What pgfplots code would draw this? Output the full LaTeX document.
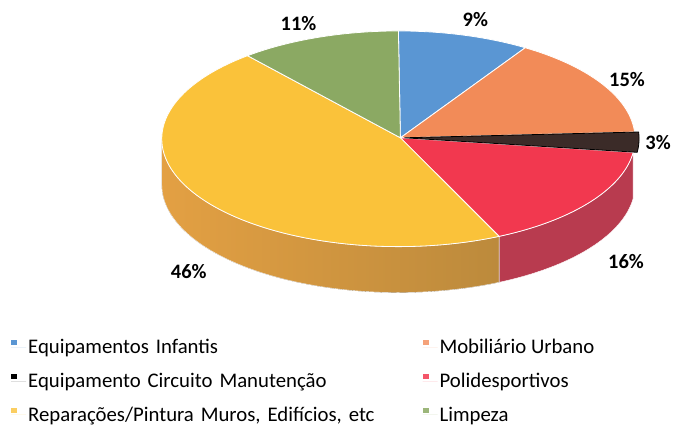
\documentclass[border=0pt]{standalone}
\usepackage{fontspec}
\setmainfont{Carlito}
\usepackage{pgfplots}
\pgfplotsset{compat=1.18}
\usepackage{pgfplotstable}
\usepgfplotslibrary{fillbetween}

\definecolor{cB}{HTML}{5A96D3}
\definecolor{cO}{HTML}{F28B58}
\definecolor{cK}{HTML}{3B2B28}
\definecolor{cR}{HTML}{F2384F}
\definecolor{cY}{HTML}{FAC23A}
\definecolor{cG}{HTML}{8BA963}
\definecolor{cYs}{HTML}{E3A043}
\definecolor{cYd}{HTML}{BC8A3C}
\definecolor{cRs}{HTML}{B83B4F}

\pgfplotstableread{
label value
EI 9
MU 15
EC 3
PD 16
RP 46
LP 11
}\piedata

\pgfplotstablegetelem{0}{value}\of\piedata \let\vA\pgfplotsretval
\pgfplotstablegetelem{1}{value}\of\piedata \let\vB\pgfplotsretval
\pgfplotstablegetelem{2}{value}\of\piedata \let\vC\pgfplotsretval
\pgfplotstablegetelem{3}{value}\of\piedata \let\vD\pgfplotsretval
\pgfplotstablegetelem{4}{value}\of\piedata \let\vE\pgfplotsretval
\pgfplotstablegetelem{5}{value}\of\piedata \let\vF\pgfplotsretval
\pgfmathsetmacro\aA{0}
\pgfmathsetmacro\aB{\aA+3.6*\vA}
\pgfmathsetmacro\aC{\aB+3.6*\vB}
\pgfmathsetmacro\aD{\aC+3.6*\vC}
\pgfmathsetmacro\aE{\aD+3.6*\vD}
\pgfmathsetmacro\aF{\aE+3.6*\vE}
\pgfmathsetmacro\aG{\aF+3.6*\vF}

\begin{document}
\begin{tikzpicture}
\begin{axis}[
  scale only axis, width=674pt, height=422pt,
  xmin=0, xmax=674, ymin=0, ymax=422, y dir=reverse,
  axis lines=none, clip=false,
  legend columns=2,
  legend style={at={(axis cs:8,335.5)}, anchor=north west, draw=none, fill=none,
    font=\fontsize{20.8}{24}\selectfont, row sep=14pt,
    nodes={inner sep=2pt},
    /tikz/column 2/.style={text width=393pt, align=left}},
  legend cell align=left,
  legend image code/.code={\fill[#1, draw=none] (0pt,2pt) rectangle (6pt,7pt); \path[draw=none] (0pt,0pt) -- (15pt,0pt);},
]
% sides
\addplot[forget plot, draw=none, name path=rT, domain=\aD:\aE, samples=40] ({399+237*sin(x)},{139-108*cos(x)});
\addplot[forget plot, draw=none, name path=rB, domain=\aD:\aE, samples=40] ({399+237*sin(x)},{185-108*cos(x)});
\addplot[forget plot, fill=cRs, draw=white, line width=0.4pt] fill between[of=rT and rB];
\addplot[forget plot, draw=none, name path=yT, domain=\aE:270, samples=60] ({399+237*sin(x)},{139-108*cos(x)});
\addplot[forget plot, draw=none, name path=yB, domain=\aE:270, samples=60] ({399+237*sin(x)},{185-108*cos(x)});
\addplot[forget plot, left color=cYs, right color=cYd, draw=white, line width=0.4pt] fill between[of=yT and yB];
% tops
\addplot[forget plot, fill=cB, draw=white, line width=0.8pt, domain=\aA:\aB, samples=40] ({399+237*sin(x)},{139-108*cos(x)}) -- (axis cs:401,138) -- cycle;
\addplot[forget plot, fill=cO, draw=white, line width=0.8pt, domain=\aB:\aC, samples=40] ({399+237*sin(x)},{139-108*cos(x)}) -- (axis cs:401,138) -- cycle;
\addplot[forget plot, fill=cR, draw=white, line width=0.8pt, domain=\aD:\aE, samples=40] ({399+237*sin(x)},{139-108*cos(x)}) -- (axis cs:401,138) -- cycle;
\addplot[forget plot, fill=cY, draw=white, line width=0.8pt, domain=\aE:\aF, samples=80] ({399+237*sin(x)},{139-108*cos(x)}) -- (axis cs:401,138) -- cycle;
\addplot[forget plot, fill=cG, draw=white, line width=0.8pt, domain=\aF:\aG, samples=40] ({399+237*sin(x)},{139-108*cos(x)}) -- (axis cs:401,138) -- cycle;
\addplot[forget plot, fill=cK, draw=black, line width=0.8pt, domain=\aC:\aD, samples=10] ({403+237*sin(x)},{139-108*cos(x)}) -- (axis cs:405,138) -- cycle;
% labels
\begin{scope}[font=\fontsize{20.5}{24}\selectfont\bfseries]
\node at (axis cs:476,20) {9\%};
\node at (axis cs:628,80) {15\%};
\node at (axis cs:659,143) {3\%};
\node at (axis cs:627,262) {16\%};
\node at (axis cs:189,272) {46\%};
\node at (axis cs:299,24) {11\%};
\end{scope}
% legend
\addlegendimage{fill=cB}
\addlegendentry{Equipamentos Infantis}
\addlegendimage{fill=cO!80!white}
\addlegendentry{Mobiliário Urbano}
\addlegendimage{fill=black}
\addlegendentry{Equipamento Circuito Manutenção}
\addlegendimage{fill=cR!85!white}
\addlegendentry{Polidesportivos}
\addlegendimage{fill=cY!80!white}
\addlegendentry{Reparações/Pintura Muros, Edifícios, etc}
\addlegendimage{fill=cG!85!white}
\addlegendentry{Limpeza}
\path (axis cs:0,0) rectangle (axis cs:674,422);
\end{axis}
\end{tikzpicture}
\end{document}
